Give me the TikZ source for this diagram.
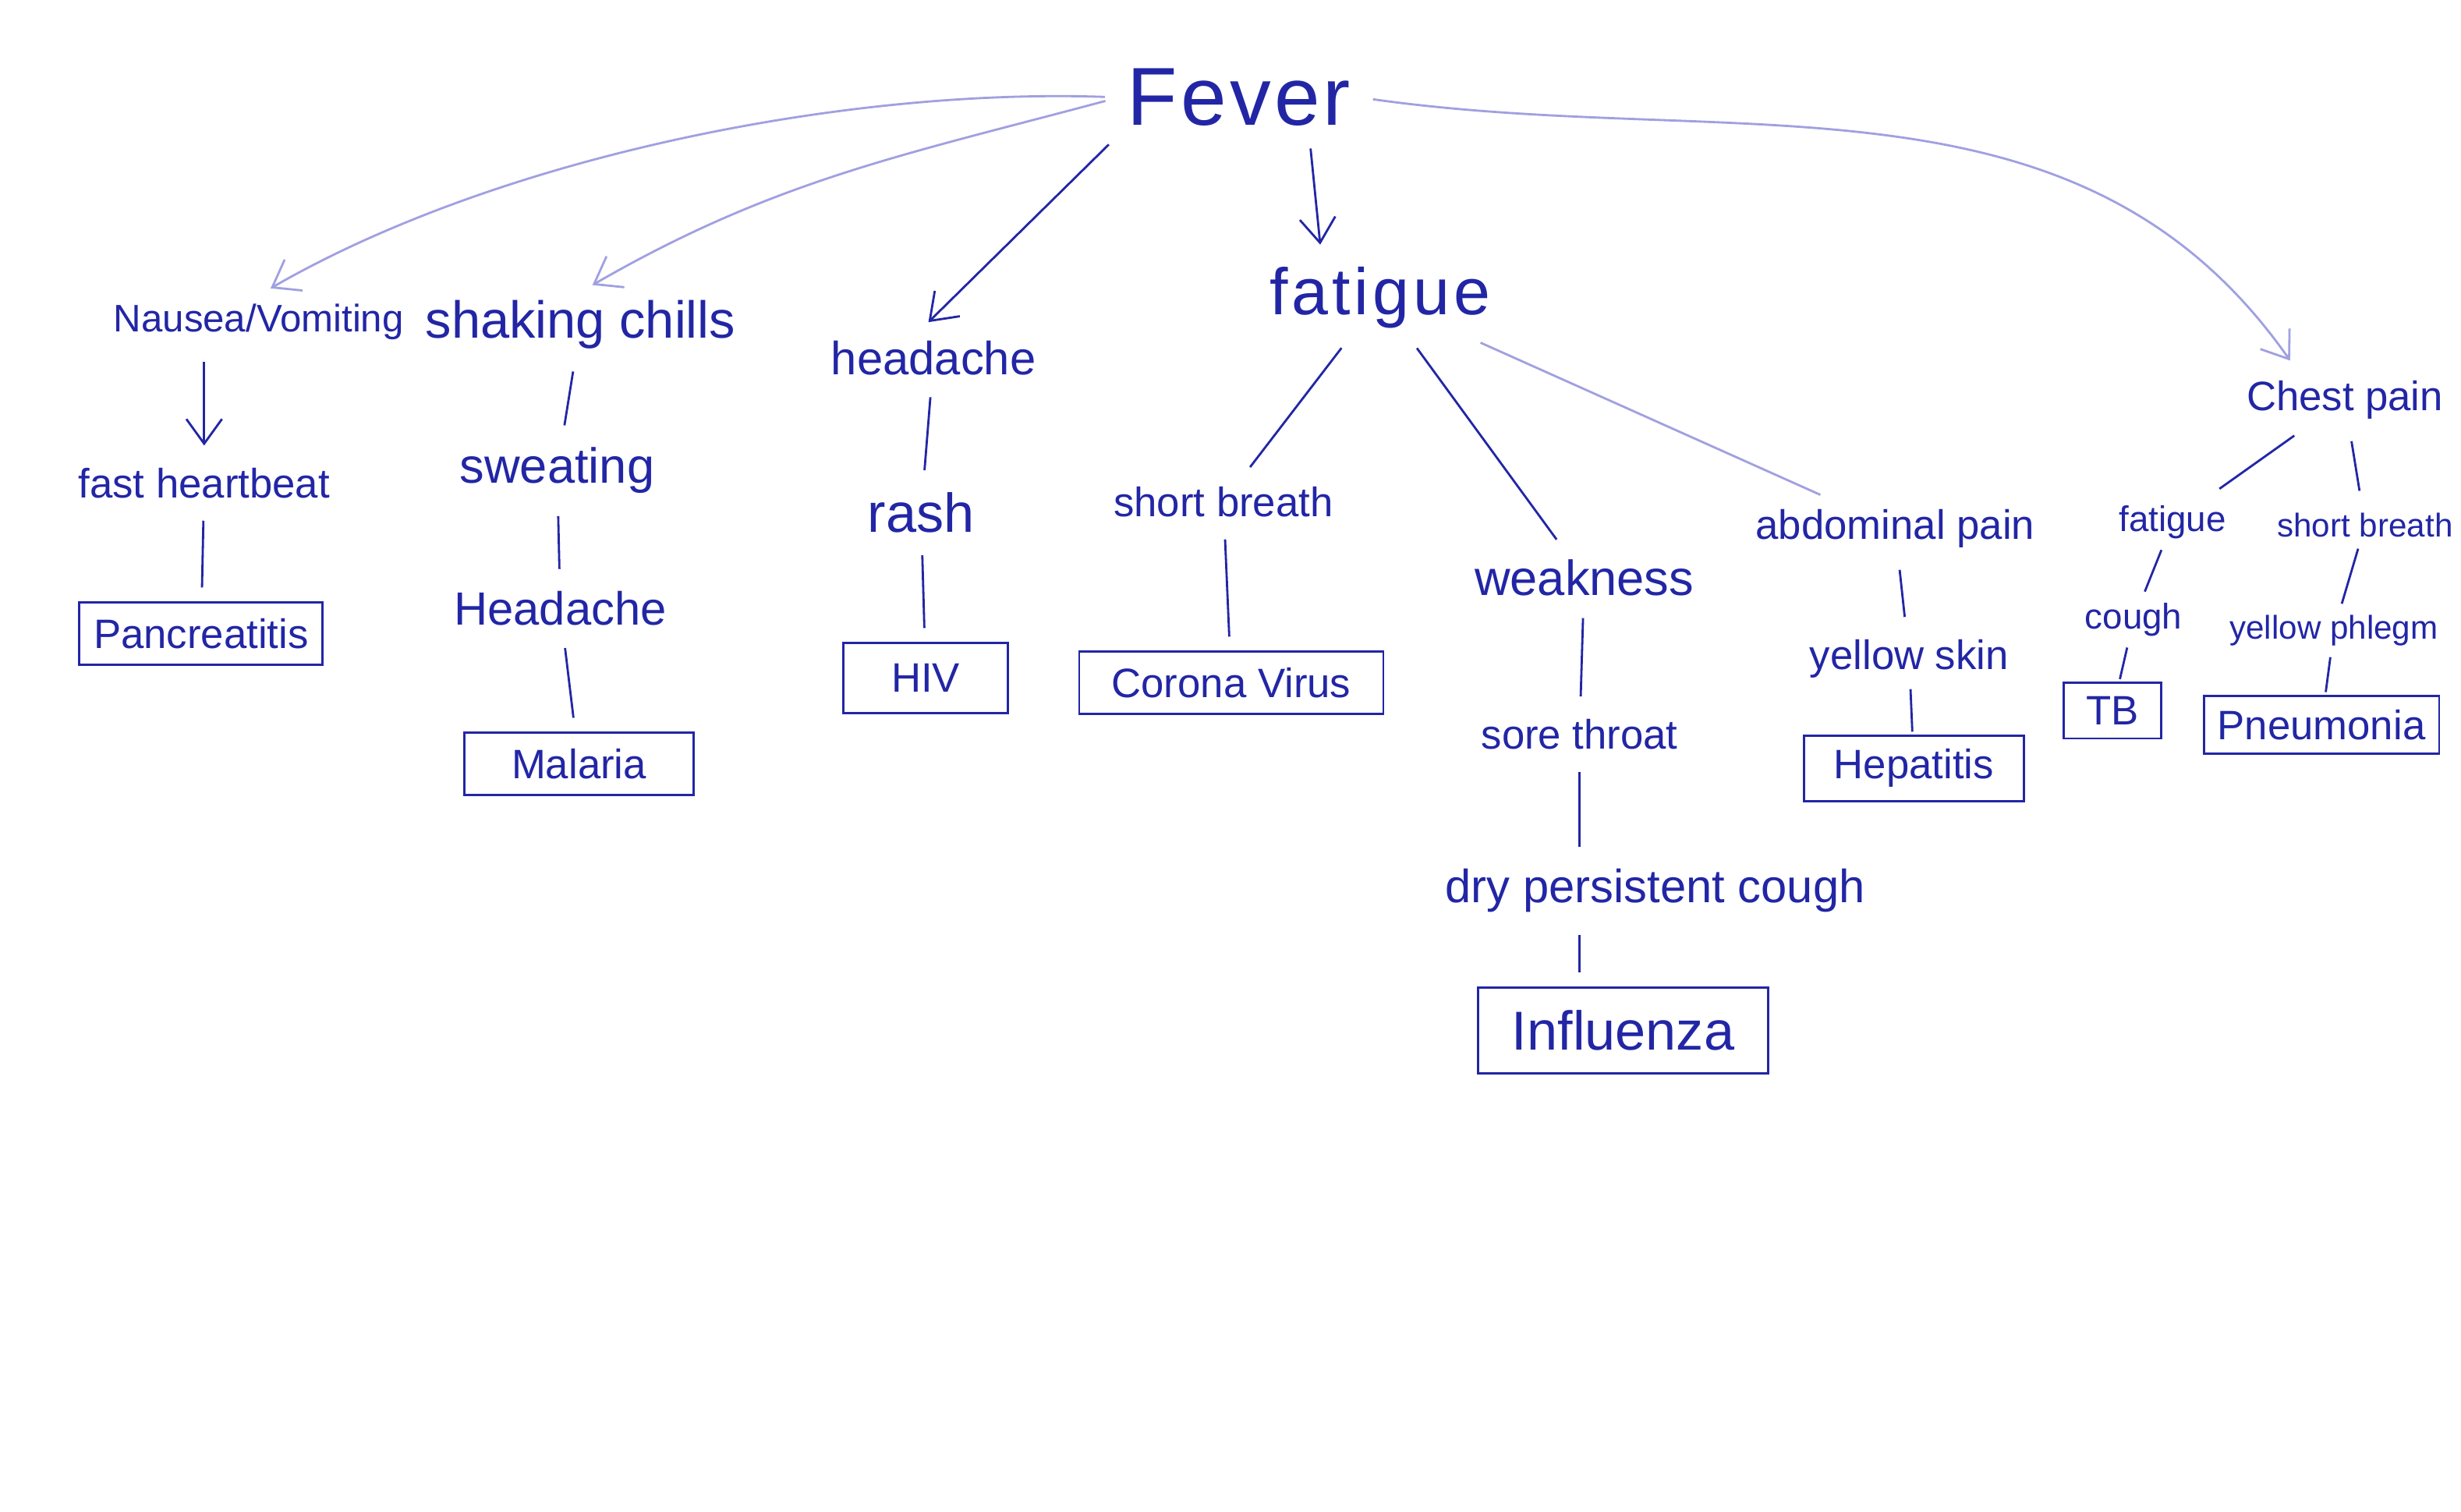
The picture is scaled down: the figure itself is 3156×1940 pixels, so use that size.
\documentclass[tikz,border=0pt]{standalone}
\usepackage{fontspec}
\setmainfont{Liberation Sans}
\usetikzlibrary{arrows.meta}

\definecolor{ink}{RGB}{34,38,165}
\definecolor{pale}{RGB}{160,160,225}

\tikzset{
  sym/.style={text=ink, font=\fontsize{15}{17}\selectfont, inner sep=3pt},
  dis/.style={sym, draw=ink, thick, rectangle, minimum height=0.8cm, inner sep=5pt},
  bond/.style={draw=ink, thick, shorten >=5pt, shorten <=5pt},
  tight bond/.style={bond, shorten >=1pt, shorten <=1pt},
  pale bond/.style={draw=pale, thick, shorten >=5pt, shorten <=5pt},
}

\begin{document}
\begin{tikzpicture}[x=0.01cm, y=-0.01cm, >={Straight Barb[length=9pt,width=13pt]}]

\fill[white] (0,0) rectangle (3156,1940);

\draw (1590,125) node(FEVER)[sym,font=\fontsize{30}{32}\selectfont\addfontfeature{LetterSpace=4}]{Fever};

\draw (332,413) node(NAUSEA)[sym,font=\fontsize{14}{16}\selectfont]{Nausea/Vomiting};
\draw (745,417) node(CHILLS)[sym,font=\fontsize{19}{21}\selectfont]{shaking chills};
\draw (1198,459) node(HEAD)[sym,font=\fontsize{17}{19}\selectfont]{headache};
\draw (1771,382) node(FATIGUE)[sym,font=\fontsize{24}{26}\selectfont\addfontfeature{LetterSpace=6}]{fatigue};
\draw (3009,513) node(CHEST)[sym]{Chest pain};

\draw (262,620) node(HEART)[sym]{fast heartbeat};
\draw (258,813) node(PANC)[dis,minimum width=3.12cm]{Pancreatitis};

\draw (715,604) node(SWEAT)[sym,font=\fontsize{18}{20}\selectfont]{sweating};
\draw (719,781) node(HEAD2)[sym,font=\fontsize{17}{19}\selectfont]{Headache};
\draw (743,980) node(MAL)[dis,minimum width=2.94cm]{Malaria};

\draw (1182,658) node(RASH)[sym,font=\fontsize{20}{22}\selectfont]{rash};
\draw (1188,870) node(HIV)[dis,minimum width=2.11cm,minimum height=0.9cm]{HIV};

\draw (1570,644) node(SHORT)[sym]{short breath};
\draw (1580,876) node(CORONA)[dis,minimum width=3.9cm]{Corona Virus};

\draw (2033,741) node(WEAK)[sym,font=\fontsize{18}{20}\selectfont]{weakness};
\draw (2027,942) node(SORE)[sym]{sore throat};
\draw (2124,1143) node(DRY)[sym,font=\fontsize{17}{19}\selectfont]{dry persistent cough};
\draw (2083,1322) node(FLU)[dis,minimum width=3.72cm,minimum height=1.1cm,font=\fontsize{20}{22}\selectfont]{Influenza};

\draw (2432,678) node(ABDO)[sym]{abdominal pain};
\draw (2450,845) node(YELLOW)[sym]{yellow skin};
\draw (2456,986) node(HEP)[dis,minimum width=2.82cm]{Hepatitis};

\draw (2788,670) node(FAT2)[sym,font=\fontsize{13}{15}\selectfont]{fatigue};
\draw (3035,674) node(SHORT2)[sym,font=\fontsize{12}{14}\selectfont]{short breath};
\draw (2738,795) node(COUGH)[sym,font=\fontsize{13}{15}\selectfont]{cough};
\draw (2995,809) node(PHLEGM)[sym,font=\fontsize{12}{14}\selectfont]{yellow phlegm};
\draw (2711,912) node(TB)[dis,minimum width=1.25cm,minimum height=0.7cm]{TB};
\draw (2979,930) node(PNEU)[dis,minimum width=2.96cm,minimum height=0.7cm]{Pneumonia};

% from Fever
\draw[pale bond,->] (FEVER.west) to[out=178,in=30,looseness=0.8] (NAUSEA.north);
\draw[pale bond,->] (FEVER.west) to[out=195,in=30] (CHILLS.north);
\draw[bond,->] (FEVER.south west) -- (HEAD.120);
\draw[bond,->] ([xshift=0.9cm]FEVER.south) -- ([xshift=-0.75cm]FATIGUE.north);
\draw[pale bond,->] (FEVER.east) to[out=-8,in=125] ([xshift=-0.6cm]CHEST.north);

% branches
\draw[bond,->] (NAUSEA.south -| HEART.north) -- (HEART.north);
\draw[bond] (HEART) -- (PANC);
\draw[bond] (CHILLS) -- (SWEAT);
\draw[bond] (SWEAT) -- (HEAD2);
\draw[bond] (HEAD2) -- (MAL);
\draw[bond] (HEAD) -- (RASH);
\draw[bond] (RASH) -- (HIV);
\draw[bond] (FATIGUE) -- (SHORT);
\draw[bond] (SHORT) -- (CORONA);
\draw[bond] (FATIGUE) -- (WEAK);
\draw[bond] (WEAK) -- (SORE);
\draw[bond] (SORE.south) -- (DRY.north -| SORE.south);
\draw[bond] (DRY.south -| SORE.south) -- (FLU.north -| SORE.south);
\draw[pale bond] (FATIGUE) -- (ABDO);
\draw[bond] (ABDO) -- (YELLOW);
\draw[tight bond] (YELLOW) -- (HEP);
\draw[bond] (CHEST) -- (FAT2);
\draw[bond] (CHEST) -- (SHORT2);
\draw[tight bond] (FAT2) -- (COUGH);
\draw[tight bond] (COUGH) -- (TB);
\draw[tight bond] (SHORT2) -- (PHLEGM);
\draw[tight bond] (PHLEGM) -- (PNEU);

\end{tikzpicture}
\end{document}
